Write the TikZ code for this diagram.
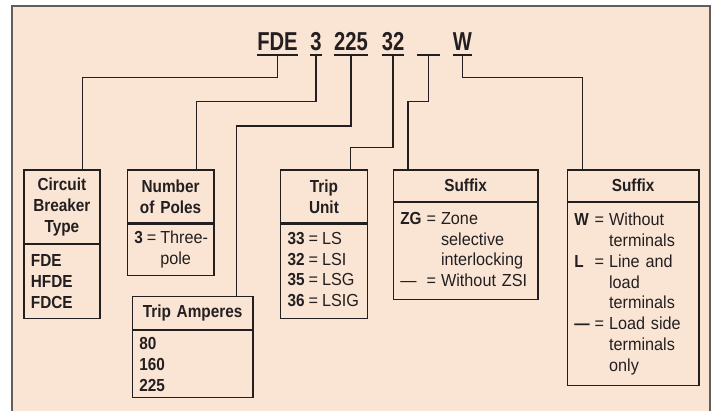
\documentclass[tikz,border=0pt]{standalone}
\usepackage{fontspec}
\setmainfont{Liberation Sans}[UprightFeatures={FakeStretch=0.93},BoldFeatures={FakeStretch=0.88}]
\newfontfamily\codefont{Liberation Sans}[BoldFeatures={FakeStretch=0.78}]
\definecolor{peach}{HTML}{FAE5D4}
\definecolor{framegrey}{HTML}{625D5B}
\definecolor{ink}{HTML}{231F20}

\begin{document}
\begin{tikzpicture}[x=1bp, y=-1bp, text=ink,
	boxline/.style={draw=ink, line width=1.2bp},
	head/.style={boxline, font=\fontsize{17.5}{21}\selectfont\bfseries, align=center, inner xsep=7bp, inner ysep=0pt, anchor=north west},
	body/.style={boxline, font=\fontsize{17.5}{21}\selectfont, align=left, inner xsep=7bp, inner ysep=0pt, anchor=north west},
	code/.style={font=\codefont\bfseries\fontsize{26}{30}\selectfont, inner sep=0pt, anchor=base},
	uline/.style={draw=ink, line width=2bp},
	link/.style={draw=ink, line width=1.2bp}]
				\useasboundingbox (0,0) rectangle (712,410);
				\fill[peach] (12,6) rectangle (710,412);
				\draw[framegrey, line width=2bp] (12,412) -- (12,6) -- (710,6) -- (710,412);
				
				% catalog number
				\node[code] (fde) at (277.5,50) {FDE};
				\node[code] (pol) at (316,50) {3};
				\node[code] (amp) at (351,50) {225};
				\node[code] (tru) at (393,50) {32};
				\node[code, minimum width=23bp] (zsi) at (428.5,50) {};
				\node[code] (ter) at (462.5,50) {W};
				\foreach \n in {fde,pol,amp,tru,zsi,ter} {
					\draw[uline] ([yshift=-4.7bp]\n.base west) -- ([yshift=-4.7bp]\n.base east);
					\coordinate (\n-u) at ([yshift=-4.7bp]\n.base);
				}
				
				% boxes
				\node[head, text width=62bp, minimum height=73.4bp] (cbt) at (23.3,169.3) {Circuit\\Breaker\\Type};
				\node[body, text width=62bp, minimum height=74bp] (cbt-b) at (cbt.south west) {\textbf{FDE}\\\textbf{HFDE}\\\textbf{FDCE}};
				
				\node[head, text width=72.6bp, minimum height=53bp] (nop) at (126.7,169.3) {Number\\of Poles};
				\node[body, text width=72.6bp, minimum height=51bp] (nop-b) at (nop.south west) {\begin{tabular}{@{}l@{\hspace{4bp}}l@{\hspace{4bp}}l@{}}\textbf{3} & = & Three-\\ & & pole\end{tabular}};
				
				\node[head, text width=106.6bp, minimum height=33bp] (tra) at (131.7,296) {Trip Amperes};
				\node[body, text width=106.6bp, minimum height=67bp] (tra-b) at (tra.south west) {\textbf{80}\\\textbf{160}\\\textbf{225}};
				
				\node[head, text width=72.7bp, minimum height=53bp] (tu) at (280,169.3) {Trip\\Unit};
				\node[body, text width=72.7bp, minimum height=94.4bp] (tu-b) at (tu.south west) {\begin{tabular}{@{}l@{\hspace{4bp}}l@{\hspace{4bp}}l@{}}\textbf{33} & = & LS\\\textbf{32} & = & LSI\\\textbf{35} & = & LSG\\\textbf{36} & = & LSIG\end{tabular}};
				
				\node[head, text width=130.6bp, minimum height=31.7bp] (sz) at (392.7,169.3) {Suffix};
				\node[body, text width=130.6bp, minimum height=97bp] (sz-b) at (sz.south west) {\begin{tabular}{@{}l@{\hspace{5bp}}l@{\hspace{5bp}}l@{}}\textbf{ZG} & = & Zone\\ & & selective\\ & & interlocking\\ — & = & Without ZSI\end{tabular}};
				
				\node[head, text width=117.6bp, minimum height=31.7bp] (sw) at (566.7,169.3) {Suffix};
				\node[body, text width=117.6bp, minimum height=183bp] (sw-b) at (sw.south west) {\begin{tabular}{@{}l@{\hspace{5bp}}l@{\hspace{5bp}}l@{}}\textbf{W} & = & Without\\ & & terminals\\ \textbf{L} & = & Line and\\ & & load\\ & & terminals\\ \textbf{—} & = & Load side\\ & & terminals\\ & & only\end{tabular}};
				
				% leaders
				\coordinate (k-fde) at (82.7,77.3);
				\coordinate (k-pol) at (196.7,101.7);
				\coordinate (k-amp) at (236.7,126);
				\coordinate (k-tru) at (350.7,147.7);
				\coordinate (k-zsi) at (408,101.7);
				\coordinate (k-ter) at (582.7,77.3);
				\draw[link] (fde-u) |- (k-fde) -- (k-fde |- cbt.north);
				\draw[link] (pol-u) |- (k-pol) -- (k-pol |- nop.north);
				\draw[link] (amp-u) |- (k-amp) -- (k-amp |- tra.north);
				\draw[link] (tru-u) |- (k-tru) -- (k-tru |- tu.north);
				\draw[link] (zsi-u) |- (k-zsi) -- (k-zsi |- sz.north);
				\draw[link] (ter-u) |- (k-ter) -- (k-ter |- sw.north);
\end{tikzpicture}
\end{document}
